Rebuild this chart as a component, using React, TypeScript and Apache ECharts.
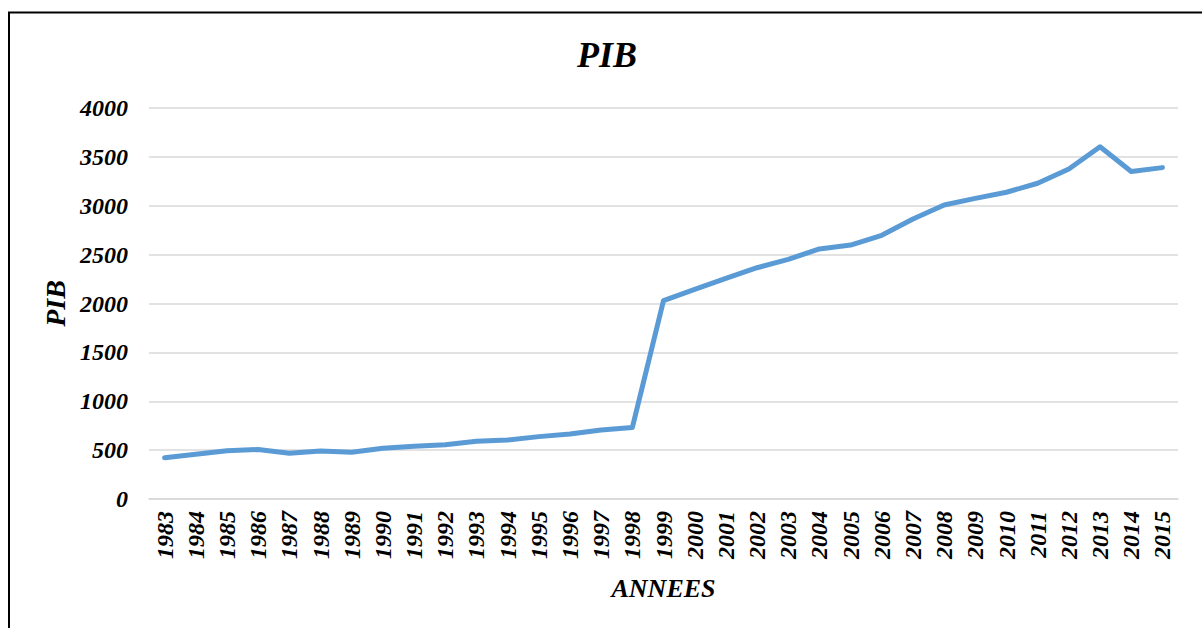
import React, { useEffect, useRef } from "react";
import * as echarts from "echarts";

const years: string[] = [
  "1983", "1984", "1985", "1986", "1987", "1988", "1989", "1990", "1991", "1992", "1993",
  "1994", "1995", "1996", "1997", "1998", "1999", "2000", "2001", "2002", "2003", "2004",
  "2005", "2006", "2007", "2008", "2009", "2010", "2011", "2012", "2013", "2014", "2015",
];

const pib: number[] = [
  423, 458, 494, 506, 467, 491, 478, 519, 539, 556, 590,
  604, 638, 665, 706, 731, 2029, 2145, 2258, 2366, 2452, 2558,
  2598, 2698, 2864, 3008, 3076, 3138, 3230, 3376, 3603, 3350, 3390,
];

const FONT = "'Liberation Serif', 'Times New Roman', serif";

export default function App() {
  const ref = useRef<HTMLDivElement>(null);

  useEffect(() => {
    document.body.style.margin = "0";
    if (!ref.current) return;
    const chart = echarts.init(ref.current, null, { renderer: "svg" });
    chart.setOption({
      animation: false,
      backgroundColor: "#ffffff",
      title: {
        text: "PIB",
        left: 572,
        top: 32,
        textStyle: {
          fontFamily: FONT,
          fontStyle: "italic",
          fontWeight: "bold",
          fontSize: 36,
          color: "#000",
        },
      },
      graphic: [
        {
          type: "rect",
          shape: { x: 9, y: 12.5, width: 1400, height: 800 },
          style: { fill: "none", stroke: "#000", lineWidth: 2 },
          silent: true,
        },
      ],
      grid: { left: 149, right: 24, top: 108, bottom: 129 },
      xAxis: {
        type: "category",
        data: years,
        boundaryGap: true,
        name: "ANNEES",
        nameLocation: "middle",
        nameGap: 76,
        nameTextStyle: {
          fontFamily: FONT,
          fontStyle: "italic",
          fontWeight: "bold",
          fontSize: 26,
          color: "#000",
        },
        axisLine: { show: true, lineStyle: { color: "#d9d9d9", width: 1.5 } },
        axisTick: { show: false },
        axisLabel: {
          rotate: 90,
          margin: 12,
          interval: 0,
          fontFamily: FONT,
          fontStyle: "italic",
          fontWeight: "bold",
          fontSize: 24,
          color: "#000",
        },
      },
      yAxis: {
        type: "value",
        min: 0,
        max: 4000,
        interval: 500,
        name: "PIB",
        nameLocation: "middle",
        nameGap: 75,
        nameRotate: 90,
        nameTextStyle: {
          fontFamily: FONT,
          fontStyle: "italic",
          fontWeight: "bold",
          fontSize: 28,
          color: "#000",
        },
        axisLine: { show: false },
        axisTick: { show: false },
        axisLabel: {
          margin: 21,
          formatter: (v: number) => String(v),
          fontFamily: FONT,
          fontStyle: "italic",
          fontWeight: "bold",
          fontSize: 24,
          color: "#000",
        },
        splitLine: { show: true, lineStyle: { color: "#d9d9d9", width: 1.5 } },
      },
      series: [
        {
          type: "line",
          data: pib,
          symbol: "none",
          lineStyle: { color: "#5B9BD5", width: 5, cap: "round", join: "round" },
          itemStyle: { color: "#5B9BD5" },
        },
      ],
    });
    return () => chart.dispose();
  }, []);

  return <div ref={ref} style={{ width: 1202, height: 628 }} />;
}
